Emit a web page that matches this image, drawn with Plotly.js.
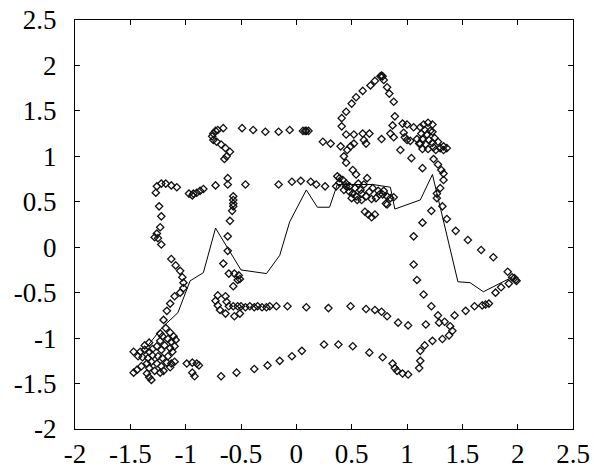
<!DOCTYPE html>
<html>
<head>
<meta charset="utf-8">
<script src="https://cdn.plot.ly/plotly-3.0.1.min.js"></script>
<style>html,body{margin:0;padding:0;background:#fff;}#chart{width:594px;height:474px;}</style>
</head>
<body>
<div id="chart"></div>
<script>
// Solid line series
const lineX = [-1.34,-1.21,-1.07,-0.96,-0.84,-0.73,-0.50,-0.27,-0.15,-0.06,0.09,0.19,0.30,0.37,0.69,0.85,0.89,1.12,1.23,1.46,1.57,1.69,1.95];
const lineY = [-1.08,-0.88,-0.72,-0.37,-0.28,0.21,-0.25,-0.29,-0.09,0.28,0.63,0.44,0.44,0.69,0.69,0.66,0.42,0.52,0.80,-0.38,-0.39,-0.49,-0.33];

// Diamond point series: upper loops
const upperX = [-0.75,-0.76,-0.75,-0.72,-0.68,-0.64,-0.60,-0.63,-0.65,-0.73,-0.71,-0.66,-0.49,-0.39,-0.28,-0.16,-0.06,0.06,0.08,0.09,0.11,0.24,0.31,0.40,0.43,0.45,0.46,0.49,0.52,0.45,0.52,0.41,0.41,0.45,0.50,0.54,0.60,0.67,0.71,0.76,0.78,0.77,0.79,0.82,0.84,0.88,0.89,0.87,0.96,1.00,1.06,0.85,0.88,0.97,0.98,1.00,1.03,0.77,0.94,1.04,1.12,0.60,0.66,0.61,0.63];
const upperY = [1.25,1.22,1.18,1.16,1.13,1.09,1.05,1.00,0.97,1.28,1.29,1.31,1.31,1.29,1.27,1.27,1.29,1.28,1.28,1.28,1.28,1.16,1.14,1.11,1.00,0.93,1.07,1.11,1.14,1.24,1.24,1.33,1.42,1.49,1.58,1.65,1.72,1.78,1.83,1.88,1.88,1.89,1.84,1.76,1.69,1.60,1.44,1.34,1.36,1.35,1.32,1.25,1.21,1.26,1.21,1.18,1.17,1.19,1.07,0.98,1.14,1.25,1.25,1.18,1.14];

// right cluster and right-hand loop
const rightX = [1.12,1.15,1.19,1.23,1.16,1.21,1.13,1.18,1.23,1.14,1.20,1.25,1.11,1.17,1.23,1.28,1.33,1.36,1.30,1.24,1.19,1.14,1.26,1.33,1.09,
  1.24,1.28,1.31,1.33,1.33,1.30,1.27,1.27,1.32,1.36,1.44,1.55,1.67,1.78,1.91,1.95,1.98,1.99,1.97,1.92,1.85,1.80,1.74,1.71,1.68,1.61,1.53,1.43,1.34,1.29,1.39,1.41,1.38,1.32,1.23,1.16,1.12,1.12,1.11,1.01,0.96,0.91,0.89,0.87,0.78,0.66,0.51,0.38,0.25,0.05,-0.04,-0.15,-0.26,-0.38,-0.54,-0.68];
const rightY = [1.32,1.35,1.37,1.35,1.29,1.28,1.25,1.24,1.27,1.19,1.18,1.20,1.14,1.13,1.15,1.16,1.11,1.09,1.09,1.10,1.08,1.08,1.07,1.07,1.19,
  0.97,0.91,0.85,0.81,0.74,0.65,0.59,0.54,0.45,0.31,0.18,0.08,-0.03,-0.11,-0.27,-0.33,-0.36,-0.37,-0.34,-0.40,-0.44,-0.50,-0.62,-0.63,-0.64,-0.65,-0.70,-0.75,-0.82,-0.83,-0.87,-0.92,-0.97,-1.01,-1.03,-1.08,-1.14,-1.25,-1.33,-1.40,-1.39,-1.36,-1.33,-1.28,-1.21,-1.16,-1.09,-1.07,-1.07,-1.14,-1.20,-1.25,-1.30,-1.34,-1.38,-1.42];

// middle band (y ~ -0.65) and right vertical
const bandX = [-0.71,-0.73,-0.71,-0.69,-0.64,-0.63,-0.64,-0.61,-0.57,-0.56,-0.51,-0.53,-0.50,-0.46,-0.42,-0.38,-0.35,-0.31,-0.27,-0.24,-0.18,-0.08,0.09,0.29,0.49,0.63,0.71,0.77,0.82,0.92,1.01,1.17,1.22,1.28,
  1.14,1.22,1.14,1.06,1.06,1.09,1.15];
const bandY = [-0.53,-0.59,-0.64,-0.69,-0.54,-0.60,-0.73,-0.65,-0.65,-0.76,-0.73,-0.65,-0.65,-0.66,-0.65,-0.66,-0.65,-0.66,-0.66,-0.65,-0.65,-0.65,-0.66,-0.67,-0.65,-0.68,-0.69,-0.71,-0.76,-0.83,-0.86,-0.85,-0.65,-0.75,
  0.87,0.40,0.27,0.12,-0.19,-0.36,-0.52];

// middle loop (y ~ 0.7) and central cluster
const midX = [-0.62,-0.62,-0.46,-0.16,-0.04,0.04,0.13,0.18,0.26,0.36,
  0.37,0.39,0.42,0.45,0.43,0.48,0.51,0.54,0.55,0.58,0.61,0.64,0.69,0.72,0.75,0.78,0.82,0.85,0.81,0.51,0.54,0.48,0.53,0.56,0.59,0.63,0.66,0.68,0.59,0.50,0.45,0.39,0.74,0.79,0.88,0.62,0.65,0.68,0.71,0.82,
  -0.57,-0.57,-0.57,-0.57,-0.58,-0.60,-0.62,-0.62,-0.66,-0.61,-0.56,-0.52,-0.51,-0.53,-0.57];
const midY = [0.76,0.69,0.69,0.69,0.72,0.73,0.72,0.69,0.67,0.67,
  0.78,0.76,0.74,0.70,0.63,0.61,0.59,0.56,0.52,0.63,0.69,0.76,0.65,0.54,0.58,0.58,0.56,0.54,0.48,0.85,0.80,0.67,0.65,0.70,0.59,0.56,0.61,0.53,0.52,0.54,0.67,0.71,0.62,0.62,0.55,0.39,0.36,0.33,0.36,0.47,
  0.56,0.52,0.48,0.45,0.40,0.29,0.12,-0.04,-0.18,-0.29,-0.29,-0.31,-0.35,-0.36,-0.43];

// left loop and lower-left cluster
const leftX = [-1.27,-1.26,-1.22,-1.18,-1.13,-1.08,-0.97,-0.94,-0.93,-0.90,-0.87,-0.84,-0.73,
  -1.24,-1.22,-1.23,-1.26,-1.28,-1.25,-1.22,-1.13,-1.09,-1.05,-1.03,-1.02,-1.02,-1.05,-1.10,-1.14,-1.17,-1.20,-1.23,
  -1.18,-1.14,-1.11,-1.09,-1.13,-1.16,-1.21,-1.23,-1.19,-1.14,-1.10,-1.22,-1.26,-1.30,-1.33,-1.37,-1.41,-1.47,-1.43,-1.39,-1.34,-1.30,-1.25,-1.21,-1.16,-1.12,-1.31,-1.26,-1.22,-1.17,-1.13,-1.10,-1.35,-1.40,-1.44,-1.47,-1.33,-1.28,-1.23,-1.33,-1.31,-1.35,-1.20,-1.14,-1.37,-1.33,
  -0.99,-0.94,-0.90,-0.88,-0.94,-0.92];
const leftY = [0.60,0.67,0.70,0.70,0.68,0.66,0.59,0.57,0.59,0.60,0.62,0.64,0.68,
  0.45,0.34,0.22,0.15,0.11,0.10,0.03,-0.13,-0.20,-0.26,-0.33,-0.39,-0.45,-0.50,-0.54,-0.62,-0.70,-0.80,-0.95,
  -0.89,-0.94,-0.98,-1.02,-1.04,-1.01,-0.98,-1.03,-1.08,-1.11,-1.09,-1.13,-1.09,-1.12,-1.15,-1.13,-1.15,-1.15,-1.20,-1.21,-1.22,-1.19,-1.20,-1.22,-1.20,-1.15,-1.26,-1.28,-1.31,-1.27,-1.28,-1.26,-1.28,-1.31,-1.35,-1.38,-1.33,-1.36,-1.38,-1.43,-1.46,-1.39,-1.36,-1.32,-1.08,-1.05,
  -1.28,-1.27,-1.28,-1.30,-1.38,-1.42];

const tickVals = [-2,-1.5,-1,-0.5,0,0.5,1,1.5,2,2.5];
const tickText = ['-2','-1.5','-1','-0.5','0','0.5','1','1.5','2','2.5'];

const markStyle = {symbol:'diamond-open', size:5.6, color:'#111', line:{width:1.3, color:'#111'}};
const tickFont = {family:'Times New Roman, Liberation Serif, serif', size:27, color:'#000'};
const traces = [
  {x:lineX, y:lineY, mode:'lines', type:'scatter', line:{color:'#000', width:1}},
  {x:upperX, y:upperY, mode:'markers', type:'scatter', marker:markStyle},
  {x:rightX, y:rightY, mode:'markers', type:'scatter', marker:markStyle},
  {x:bandX, y:bandY, mode:'markers', type:'scatter', marker:markStyle},
  {x:midX, y:midY, mode:'markers', type:'scatter', marker:markStyle},
  {x:leftX, y:leftY, mode:'markers', type:'scatter', marker:markStyle}
];
function axis(standoff) {
  return {
    range:[-2,2.5], autorange:false, tickmode:'array', tickvals:tickVals, ticktext:tickText,
    ticks:'inside', ticklen:5, tickwidth:1, tickcolor:'#000',
    showline:true, mirror:'ticks', linecolor:'#000', linewidth:1,
    showgrid:false, zeroline:false,
    tickfont:tickFont, ticklabelstandoff:standoff
  };
}
const layout = {
  width:594, height:474,
  margin:{l:75, r:21, t:20, b:45},
  paper_bgcolor:'#fff', plot_bgcolor:'#fff',
  font:{family:'Times New Roman, Liberation Serif, serif', size:27, color:'#000'},
  showlegend:false,
  xaxis:axis(1),
  yaxis:axis(12)
};
Plotly.newPlot('chart', traces, layout, {staticPlot:true, displayModeBar:false});
</script>
</body>
</html>
